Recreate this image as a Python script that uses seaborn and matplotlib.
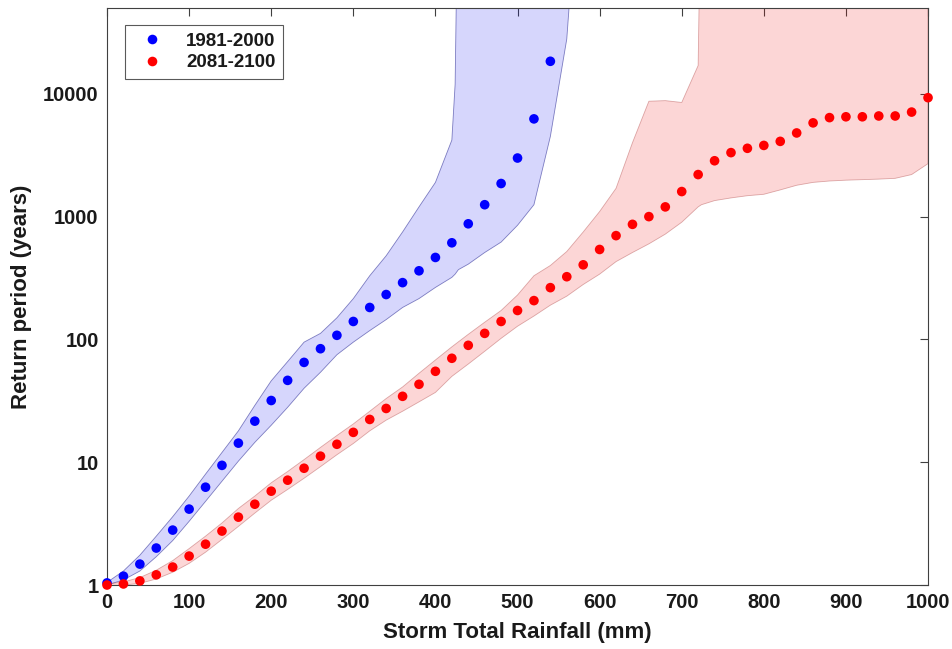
import numpy as np
import pandas as pd
import matplotlib
matplotlib.use("Agg")
import matplotlib.pyplot as plt
import seaborn as sns

# ---------------- data ----------------
rain_blue = list(range(0, 541, 20))
rp_blue = [1.04, 1.18, 1.48, 2.0, 2.8, 4.15, 6.26, 9.43, 14.3, 21.6, 31.8, 46.4, 65, 84,
           108, 140, 182, 232, 290, 362, 465, 612, 874, 1250, 1860, 3000, 6250, 18400]

rain_red = list(range(0, 1001, 20))
rp_red = [1.0, 1.02, 1.08, 1.21, 1.40, 1.72, 2.15, 2.75, 3.57, 4.55, 5.81, 7.14, 8.93, 11.2,
          14.0, 17.5, 22.3, 27.4, 34.4, 43.1, 55.0, 70.2, 89.5, 112, 140, 172, 207, 264, 324,
          405, 540, 700, 865, 1000, 1200, 1600, 2200, 2850, 3320, 3600, 3800, 4100, 4800,
          5800, 6400, 6500, 6500, 6600, 6600, 7100, 9300]

band_blue_x = list(range(0, 421, 20)) + [424, 428] + list(range(440, 561, 20)) + [566]
band_blue_lo = [1.0, 1.1, 1.3, 1.7, 2.3, 3.3, 4.8, 7.0, 10.2, 14.5, 20, 28, 40, 54, 75, 95,
                118, 145, 182, 215, 265, 320, 340, 370, 410, 510, 620, 850, 1250, 4500, 28000,
                100000]
band_blue_hi = [1.05, 1.3, 1.75, 2.5, 3.6, 5.3, 8.0, 12, 18, 29, 46, 66, 95, 112, 150, 215,
                330, 480, 750, 1200, 1900, 4200, 12000] + [1e6] * 9

band_red_x = list(range(0, 721, 20)) + [724] + list(range(740, 1001, 20))
band_red_lo = [0.98, 1.0, 1.03, 1.12, 1.27, 1.5, 1.85, 2.35, 3.0, 3.85, 4.9, 6.0, 7.4, 9.2,
               11.5, 14.2, 18, 22, 26, 31, 37, 50, 63, 80, 102, 128, 155, 190, 225, 280, 340,
               430, 510, 600, 720, 900, 1200, 1250, 1350, 1420, 1480, 1520, 1650, 1800, 1900,
               1950, 1980, 2000, 2020, 2050, 2200, 2700]
band_red_hi = [1.02, 1.06, 1.15, 1.32, 1.58, 1.98, 2.5, 3.2, 4.2, 5.3, 6.8, 8.4, 10.5, 13.2,
               16.5, 20.5, 26, 33, 41, 53, 68, 87, 110, 138, 172, 230, 330, 400, 520, 750,
               1100, 1700, 4000, 8700, 8800, 8500, 17000] + [1e6] * 15

labels = ["1981-2000", "2081-2100"]
colors = {"1981-2000": "#0000ff", "2081-2100": "#ff0000"}

x_ticks = list(range(0, 1001, 100))
y_ticks = [1, 10, 100, 1000, 10000]
y_tick_labels = ["1", "10", "100", "1000", "10000"]

# ---------------- style ----------------
sns.set_theme(style="white")
plt.rcParams["font.family"] = ["Liberation Sans", "DejaVu Sans"]
plt.rcParams["font.weight"] = "bold"

fig = plt.figure(figsize=(9.53, 6.49), dpi=100)
ax = fig.add_axes([0.1123, 0.0986, 0.8615, 0.8891])

# bands
ax.fill_between(band_blue_x, band_blue_lo, band_blue_hi, facecolor=(0.05, 0.05, 0.95, 0.17),
                edgecolor=(0.2, 0.2, 0.6, 0.6), linewidth=0.6, zorder=1)
ax.fill_between(band_red_x, band_red_lo, band_red_hi, facecolor=(0.95, 0.05, 0.05, 0.17),
                edgecolor=(0.7, 0.3, 0.3, 0.45), linewidth=0.6, zorder=1)

df = pd.concat([
    pd.DataFrame({"rain": rain_blue, "rp": rp_blue, "period": labels[0]}),
    pd.DataFrame({"rain": rain_red, "rp": rp_red, "period": labels[1]}),
], ignore_index=True)

sns.scatterplot(data=df, x="rain", y="rp", hue="period", palette=colors, s=48,
                edgecolor="none", linewidth=0, ax=ax, zorder=3)
for coll in ax.collections[2:]:
    coll.set_clip_on(False)

ax.set_yscale("log")
ax.set_xlim(0, 1000)
ax.set_ylim(1, 50000)
ax.set_xticks(x_ticks)
ax.set_xticklabels([str(v) for v in x_ticks], fontsize=14.5, fontweight="bold")
ax.set_yticks(y_ticks)
ax.set_yticklabels(y_tick_labels, fontsize=14.5, fontweight="bold")
ax.yaxis.set_minor_locator(matplotlib.ticker.NullLocator())
ax.tick_params(direction="in", length=6, width=0.8, color="#404040", top=True, right=True,
               labelcolor="#1a1a1a", pad=6)
for sp in ax.spines.values():
    sp.set_color("#404040")
    sp.set_linewidth(0.8)

ax.set_xlabel("Storm Total Rainfall (mm)", fontsize=16, fontweight="bold", color="#1a1a1a",
              labelpad=7)
ax.set_ylabel("Return period (years)", fontsize=16, fontweight="bold", color="#1a1a1a",
              labelpad=8)

leg = ax.legend(loc="upper left", bbox_to_anchor=(0.022, 0.9705), borderaxespad=0,
                frameon=True, fancybox=False, fontsize=13.5, handletextpad=0.75,
                borderpad=0.4, labelspacing=0.25, markerscale=1.0, handlelength=2.1)
leg.get_frame().set_edgecolor("#303030")
leg.get_frame().set_linewidth(0.8)
for t in leg.get_texts():
    t.set_fontweight("bold")
    t.set_color("#1a1a1a")

fig.savefig("out.png", dpi=100, facecolor="white")
